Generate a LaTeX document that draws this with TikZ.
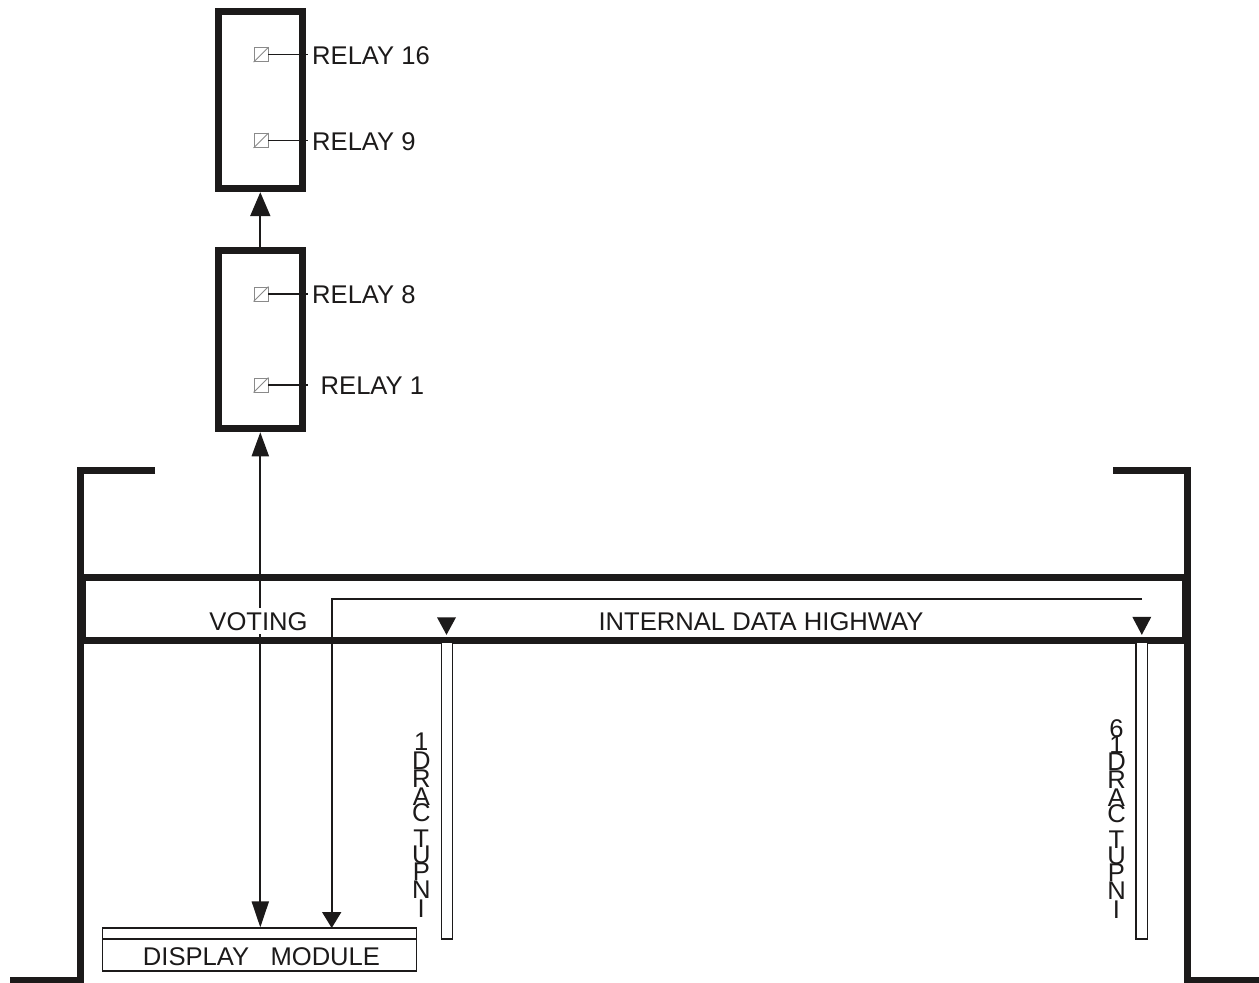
\documentclass[tikz,border=0pt]{standalone}
\usepackage{fontspec}
\setmainfont{Liberation Sans}
\usetikzlibrary{arrows.meta,calc}
\definecolor{ink}{HTML}{1C1A1A}
\definecolor{relaygrey}{HTML}{8A8A8A}
\newcommand\stackfont{\fontsize{25.6}{16}\selectfont\lineskiplimit=-100pt\relax}
\tikzset{
  heavybox/.style={draw=ink,line width=7pt,fill=white,minimum width=83.7pt,inner sep=0pt,rectangle},
  heavy/.style={draw=ink,line width=7pt,line cap=butt,miter limit=10},
  relaybox/.style={draw=relaygrey,line width=0.9pt,fill=white,minimum width=14pt,minimum height=14pt,inner sep=0pt,rectangle},
  relayline/.style={draw=ink,line width=1.5pt},
  thinbox/.style={draw=ink,line width=1.4pt,fill=white,inner sep=0pt,rectangle},
  wire/.style={draw=ink,line width=1.9pt},
  label/.style={font=\fontsize{25.6}{30}\selectfont,text=ink,inner sep=0pt},
  stacked/.style={font=\stackfont,text=ink,inner sep=0pt,align=center,anchor=north},
  bigtip/.style={-{Triangle[width=20pt,length=24pt]}},
  midtip/.style={-{Triangle[width=19pt,length=16pt]}},
}
\begin{document}
\begin{tikzpicture}[x=1pt,y=-1pt]
\useasboundingbox (0,0) rectangle (1259,983);
\fill[white] (0,0) rectangle (1259,983);

% enclosure
\draw[heavy] (155,470) -- (80.8,470) -- (80.8,980) -- (9.5,980);
\draw[heavy] (1113,470) -- (1187.6,470) -- (1187.6,980) -- (1259,980);
\draw[heavy] (82.5,577.5) rectangle (1185.2,640);

% relay boxes
\node[heavybox,minimum height=177pt] (upper) at (260.3,100.2) {};
\node[heavybox,minimum height=178.3pt] (lower) at (260.3,339.6) {};

\node[relaybox] (r16) at (261,54.7) {};
\node[relaybox] (r9)  at (261,140.5) {};
\node[relaybox] (r8)  at (261,294) {};
\node[relaybox] (r1)  at (261,385) {};
\foreach \r in {r16,r9,r8,r1}{
  \draw[relaygrey,line width=0.9pt] (\r.south west) -- (\r.north east);
}
\coordinate (e16) at (308,54.7);
\coordinate (e9)  at (308,140.5);
\coordinate (e8)  at (308,294);
\coordinate (e1)  at (308,385);
\draw[relayline] (r16.east) -- (e16);
\draw[relayline] (r9.east) -- (e9);
\draw[relayline] (r8.east) -- (e8);
\draw[relayline] (r1.east) -- (e1);

\node[label,anchor=base west] (l16) at (312,64) {RELAY 16};
\node[label,anchor=base west] (l9)  at (312,150) {RELAY 9};
\node[label,anchor=base west] (l8)  at (312,303) {RELAY 8};
\node[label,anchor=base west] (l1)  at (320.5,394) {RELAY 1};

% display module
\node[thinbox,minimum width=313.5pt,minimum height=11pt] (strip) at (259.5,933.6) {};
\node[thinbox,minimum width=313.5pt,minimum height=32pt] (module) at (259.5,955) {};
\node[label,anchor=base] (dm) at (261.5,965) {DISPLAY\ \ \ MODULE};

% connectors
\draw[wire,bigtip] (lower.north) -- (upper.south);
\draw[wire,{Triangle[width=17pt,length=24pt]}-{Triangle[width=17pt,length=26pt]}]
  (lower.south) -- (lower.south |- strip.north);
\coordinate (hw) at (1142,599);
\draw[wire,midtip] (hw) -| (331.7,928);

% input card slots
\node[thinbox,minimum width=11pt,minimum height=296.5pt] (slot1) at (447.2,790.8) {};
\node[thinbox,minimum width=11.5pt,minimum height=296.5pt] (slot16) at (1141.8,790.8) {};
\fill[ink] (slot1.north) ++(-0.7,-7) -- ++(-9.5,-17.5) -- ++(19,0) -- cycle;
\fill[ink] (slot16.north) ++(0,-7) -- ++(-9.5,-18) -- ++(19,0) -- cycle;

% band labels
\node[label,anchor=base,fill=white,inner xsep=0pt,inner ysep=4pt] (vot) at (258.5,630) {VOTING};
\node[label,anchor=base] (idh) at (761,630) {INTERNAL DATA HIGHWAY};

% stacked card labels
\node[stacked] (c1) at (421.3,733) {1\\[3pt]D\\[2pt]R\\[2pt]A\\[0pt]C\\[10pt]T\\[0pt]U\\[1pt]P\\[2pt]N\\[3pt]I};
\node[stacked] (c16) at (1116.5,719) {6\\[0pt]1\\[1pt]D\\[2pt]R\\[2pt]A\\[0pt]C\\[10pt]T\\[0pt]U\\[1pt]P\\[2pt]N\\[3pt]I};
\end{tikzpicture}
\end{document}
